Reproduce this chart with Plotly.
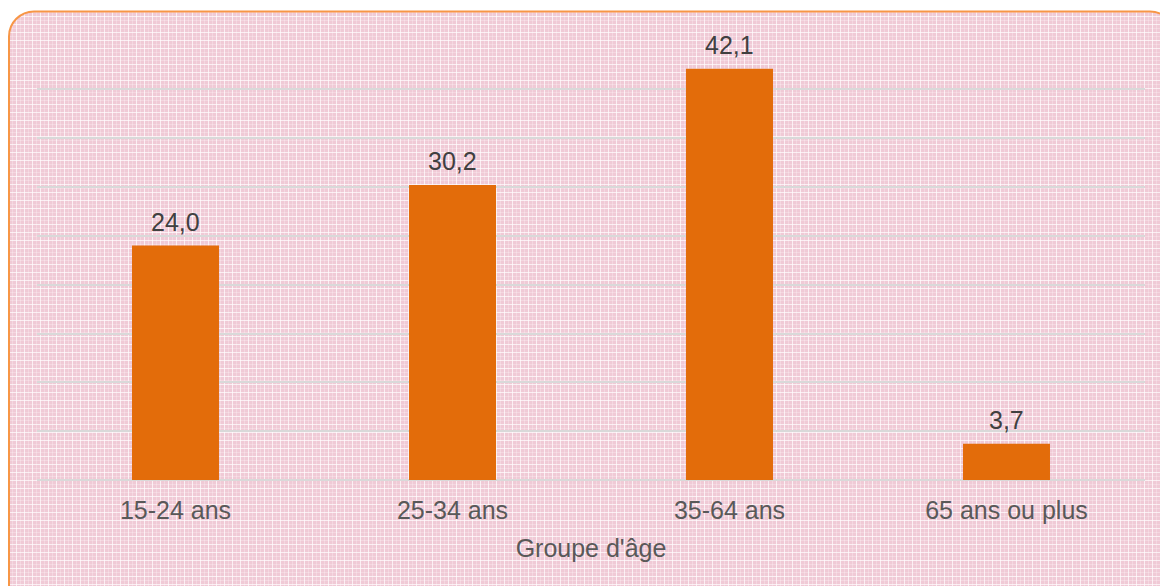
import base64
import plotly.graph_objects as go

categories = ["15-24 ans", "25-34 ans", "35-64 ans", "65 ans ou plus"]
values = [24.0, 30.2, 42.1, 3.7]
x_title = "Groupe d'âge"

W, H = 1160, 586
ML, MR, MT, MB = 37, 15, 40, 106
PW, PH = W - ML - MR, H - MT - MB
FONT = "Liberation Sans, Arial, sans-serif"

svg = f"""<svg xmlns='http://www.w3.org/2000/svg' width='{W}' height='{H}' viewBox='0 0 {W} {H}'>
<defs><pattern id='p' width='8' height='8' patternUnits='userSpaceOnUse'>
<rect width='8' height='8' fill='#F0CAD6'/>
<rect x='0' y='0' width='1' height='8' fill='#ffffff' fill-opacity='0.7'/>
<rect x='0' y='0' width='8' height='1' fill='#ffffff' fill-opacity='0.7'/>
<rect x='4' y='0' width='1' height='8' fill='#ffffff' fill-opacity='0.25'/>
<rect x='0' y='4' width='8' height='1' fill='#ffffff' fill-opacity='0.25'/>
</pattern></defs>
<path d='M9,600 L9,36.5 A25,25 0 0 1 34,11.5 L1150,11.5 A25,25 0 0 1 1175,36.5 L1175,600 Z' fill='url(#p)' stroke='#F79646' stroke-width='2'/>
</svg>"""
src = "data:image/svg+xml;base64," + base64.b64encode(svg.encode()).decode()

fig = go.Figure()
fig.add_trace(go.Bar(
    x=categories, y=values,
    marker=dict(color="#E36C0A", line=dict(width=0)),
    width=0.314,
    hoverinfo="skip",
))

annotations = [
    dict(x=c, y=v, xref="x", yref="y", text=f"{v:.1f}".replace(".", ","),
         showarrow=False, yanchor="bottom", yshift=8,
         font=dict(family=FONT, size=25, color="#404040"))
    for c, v in zip(categories, values)
]

fig.update_layout(
    width=W, height=H,
    margin=dict(l=ML, r=MR, t=MT, b=MB, pad=0),
    paper_bgcolor="white",
    plot_bgcolor="rgba(0,0,0,0)",
    separators=", ",
    showlegend=False,
    font=dict(family=FONT, size=25, color="#595959"),
    annotations=annotations,
    images=[dict(
        source=src, xref="paper", yref="paper",
        x=-ML / PW, y=1 + MT / PH, sizex=W / PW, sizey=H / PH,
        xanchor="left", yanchor="top", sizing="stretch", layer="below",
    )],
    xaxis=dict(
        showgrid=False, showline=False, ticks="", zeroline=False,
        tickfont=dict(size=25, color="#595959"),
        ticklabelstandoff=13,
        title=dict(text=x_title, font=dict(size=25, color="#595959"), standoff=16),
    ),
    yaxis=dict(
        range=[0, 45.05], dtick=5, showticklabels=False,
        showgrid=True, gridcolor="#D9D9D9", gridwidth=2,
        zeroline=True, zerolinecolor="#D9D9D9", zerolinewidth=2,
        showline=False, ticks="",
    ),
)

fig.write_html("out.html", config={"displayModeBar": False},
               post_script="document.body.style.margin='0px';")
